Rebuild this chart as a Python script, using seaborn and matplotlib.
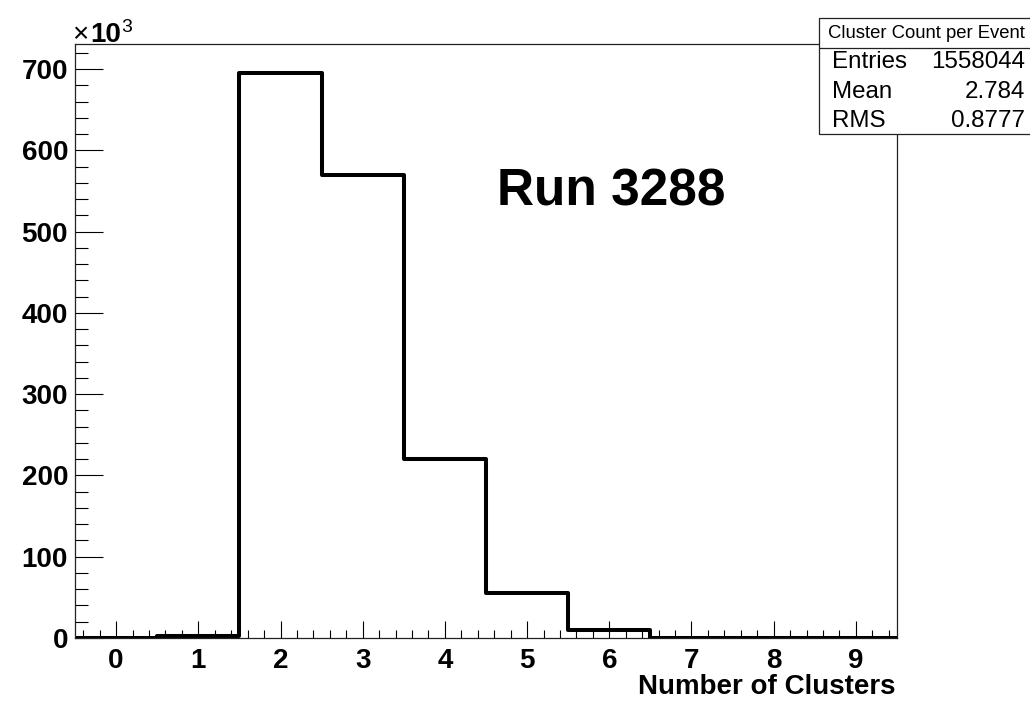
import numpy as np
import pandas as pd
import matplotlib
matplotlib.use("Agg")
import matplotlib.pyplot as plt
from matplotlib.patches import Rectangle
from matplotlib.lines import Line2D
from matplotlib.ticker import MultipleLocator
import seaborn as sns

# ---- data (counts in units of 10^3) ----
n_clusters = [0, 1, 2, 3, 4, 5, 6, 7, 8, 9]
counts_k = [0.0, 2.0, 695.5, 569.5, 220.5, 55.0, 9.8, 0.0, 0.0, 0.0]
x_ticks = [0, 1, 2, 3, 4, 5, 6, 7, 8, 9]
y_ticks = [0, 100, 200, 300, 400, 500, 600, 700]
stat_title = "Cluster Count per Event"
stat_labels = ["Entries", "Mean", "RMS"]
stat_values = ["1558044", "2.784", "0.8777"]
run_label = "Run 3288"
x_label = "Number of Clusters"

sns.set_theme(style="white")
plt.rcParams["font.family"] = ["Liberation Sans", "DejaVu Sans"]

W, H = 1030, 701
fig = plt.figure(figsize=(W / 100, H / 100), dpi=100)

def fx(px):
    return px / W

def fy(py):
    return 1 - py / H

ax_l, ax_r, ax_t, ax_b = 75, 897, 44, 638
ax = fig.add_axes([fx(ax_l), fy(ax_b), fx(ax_r - ax_l), (ax_b - ax_t) / H])

df = pd.DataFrame({"n": n_clusters, "c": counts_k})
sns.histplot(data=df, x="n", weights="c", discrete=True, element="step",
             fill=False, color="black", linewidth=2.9, ax=ax)

ax.set_xlim(-0.5, 9.5)
ax.set_ylim(0, 731)
ax.set_xticks(x_ticks)
ax.set_yticks(y_ticks)
ax.xaxis.set_minor_locator(MultipleLocator(0.2))
ax.yaxis.set_minor_locator(MultipleLocator(20))
ax.tick_params(axis="x", which="major", direction="in", length=12.2, width=0.8,
               color="black", bottom=True, top=False, pad=7, labelsize=20)
ax.tick_params(axis="x", which="minor", direction="in", length=5.8, width=0.8,
               color="black", bottom=True, top=False)
ax.tick_params(axis="y", which="major", direction="in", length=20, width=0.8,
               color="black", left=True, right=False, pad=5, labelsize=20)
ax.tick_params(axis="y", which="minor", direction="in", length=9.4, width=0.8,
               color="black", left=True, right=False)
for lab in ax.get_xticklabels() + ax.get_yticklabels():
    lab.set_fontweight("bold")
    lab.set_color("black")
for sp in ax.spines.values():
    sp.set_visible(True)
    sp.set_color("#222222")
    sp.set_linewidth(0.9)
ax.set_xlabel("")
ax.set_ylabel("")

# x-axis title, right aligned
fig.text(fx(895), fy(687), x_label, ha="right", va="center",
         fontsize=20, fontweight="bold", color="black")

# x10^3 multiplier
fig.text(fx(72), fy(42), "×", ha="left", va="baseline", fontsize=20, color="black")
fig.text(fx(90), fy(42), "10", ha="left", va="baseline", fontsize=20,
         fontweight="bold", color="black")
fig.text(fx(121), fy(32), "3", ha="left", va="baseline", fontsize=14, color="black")

# Run label
fig.text(fx(611), fy(205), run_label, ha="center", va="baseline",
         fontsize=37, fontweight="bold", color="black")

# stat box
bx_l, bx_t, bx_b, sep = 819, 18, 134, 48
fig.patches.append(Rectangle((fx(bx_l), fy(bx_b)), fx(W + 20 - bx_l), (bx_b - bx_t) / H,
                             transform=fig.transFigure, facecolor="white",
                             edgecolor="#222222", linewidth=0.9, zorder=5))
fig.lines.append(Line2D([fx(bx_l), 1.02], [fy(sep), fy(sep)], transform=fig.transFigure,
                        color="#222222", linewidth=0.9, zorder=6))
fig.text(fx(828), fy(33), stat_title, ha="left", va="center", fontsize=13.3,
         color="black", zorder=7)
row_y = [62, 92, 121]
for lab, val, yy in zip(stat_labels, stat_values, row_y):
    fig.text(fx(832), fy(yy), lab, ha="left", va="center", fontsize=17.4,
             color="black", zorder=7)
    fig.text(fx(1025), fy(yy), val, ha="right", va="center", fontsize=17.4,
             color="black", zorder=7)

fig.savefig("out.png", dpi=100, facecolor="white")
